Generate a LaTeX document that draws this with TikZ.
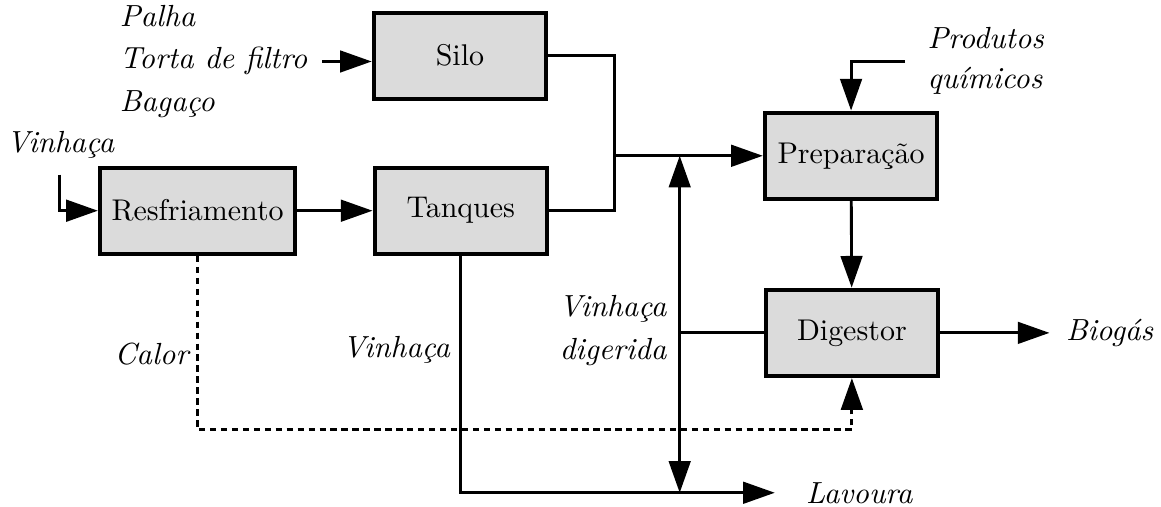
\documentclass[tikz,border=0pt]{standalone}
\usepackage{amsmath}
\usepackage{tikz}
\usetikzlibrary{arrows.meta,positioning,calc}

\begin{document}
\begin{tikzpicture}[
  x=1cm,
  y=1cm,
  font=\fontsize{10.4pt}{12.5pt}\selectfont,
  >={Triangle[length=11pt,width=7.5pt]},
  flow/.style={->, line width=1pt, draw=black},
  link/.style={line width=1pt, draw=black},
  heat/.style={->, line width=1pt, draw=black, dash pattern=on 2.2pt off 1.6pt},
  unit/.style={draw=black, fill=black!14, line width=1.5pt,
    minimum width=2.1cm, minimum height=1.05cm, align=center, inner sep=2pt},
  lbl/.style={font=\fontsize{10.6pt}{12.8pt}\selectfont\itshape, inner sep=1pt}
]

\useasboundingbox (0,0) rectangle (14.16,6.18);

\node[unit] (silo) at (5.61,5.50) {Silo};
\node[unit, minimum width=2.38cm] (resfr) at (2.41,3.61) {Resfriamento};
\node[unit] (tanques) at (5.62,3.61) {Tanques};
\node[unit] (prep) at (10.38,4.28) {Preparação};
\node[unit] (dig) at (10.39,2.12) {Digestor};

% free ends and turning points
\coordinate (feedin) at (3.93,5.43);
\coordinate (vin) at (0.73,4.05);
\coordinate (jx) at (7.50,0);
\coordinate (vx) at (8.29,0);
\coordinate (dy) at (0,0.94);
\coordinate (lavend) at (9.45,0.17);
\coordinate (quim) at (11.04,5.43);
\coordinate (bioend) at (12.80,2.12);

\node[lbl, anchor=west, align=left] (feed) at (1.42,5.43)
  {Palha\\[2pt]Torta de filtro\\[2pt]Bagaço};
\node[lbl, anchor=west] (vinin) at (0.04,4.41) {Vinhaça};
\node[lbl, anchor=east] (calor) at (2.34,1.86) {Calor};
\node[lbl, anchor=east] (vinh) at (5.53,1.91) {Vinhaça};
\node[lbl, anchor=east, align=right] (vdig) at (8.17,2.15)
  {Vinhaça\\[2pt]digerida};
\node[lbl, anchor=west, align=left] (quimlbl) at (11.27,5.44)
  {Produtos\\[1pt]químicos};
\node[lbl, anchor=west] (lav) at (9.79,0.17) {Lavoura};
\node[lbl, anchor=west] (bio) at (12.96,2.12) {Biogás};

\draw[flow] (feedin) -- (feedin -| silo.west);
\draw[flow] (vin) |- (resfr.west);
\draw[flow] (resfr) -- (tanques);
\draw[link] (silo.east) -| (prep.west -| jx);
\draw[link] (tanques.east) -| (prep.west -| jx);
\draw[flow] (prep.west -| jx) -- (prep.west);
\draw[flow] (quim) -| (prep.north);
\draw[flow] (prep) -- (dig);
\draw[flow] (dig.east) -- (bioend);
\draw[link] (dig.west) -- (dig.west -| vx);
\draw[flow, <->] (prep.west -| vx) -- (lavend -| vx);
\draw[flow] (tanques.south) |- (lavend);
\draw[heat] (resfr.south) -- (resfr.south |- dy) -| (dig.south);

\end{tikzpicture}
\end{document}
